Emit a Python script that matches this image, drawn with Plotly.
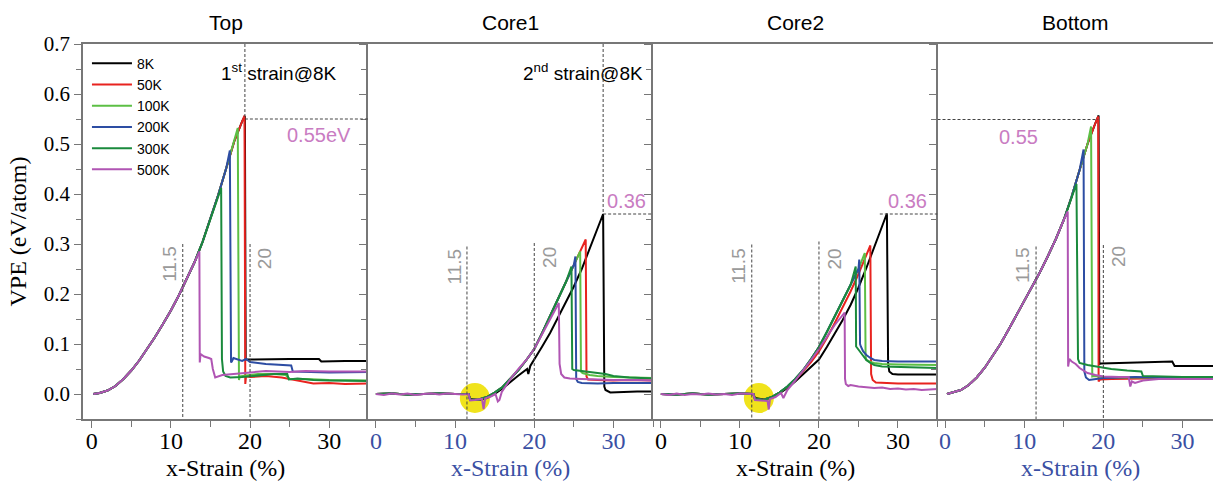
import plotly.graph_objects as go

# ---------------- data ----------------
NAMES = ["8K", "50K", "100K", "200K", "300K", "500K"]
COLORS = ["#000000", "#e8231f", "#5cbf45", "#2d4da3", "#1a8a3c", "#b055b3"]
PANELS = ["Top", "Core1", "Core2", "Bottom"]
X_TICKS = [0, 10, 20, 30]
Y_TICKS = [0.0, 0.1, 0.2, 0.3, 0.4, 0.5, 0.6, 0.7]

# ---- Top ----
TOP_RISE_X = [0.2, 1, 2, 3, 4, 5, 6, 7, 8, 9, 10, 11, 12, 13, 14, 15, 16, 17, 18, 19]
TOP_RISE_Y = [0.0, 0.002, 0.007, 0.016, 0.030, 0.047, 0.067, 0.090, 0.114, 0.140, 0.167,
              0.197, 0.229, 0.264, 0.304, 0.351, 0.399, 0.452, 0.505, 0.545]
TOP_PEAK_X = [19.35, 19.3, 18.45, 17.45, 16.35, 13.6]
TOP_PEAK_Y = [0.556, 0.557, 0.532, 0.487, 0.412, 0.285]
TOP_TAIL_X = [
    [19.45, 22, 25, 28.7, 29.0, 32, 35],
    [19.4, 19.5, 20, 22, 24, 25, 26, 27, 28, 30, 32, 35],
    [18.6, 18.7, 19.5, 21, 23, 24.5, 25, 27, 30, 35],
    [17.6, 17.7, 17.9, 18.5, 19, 19.5, 20, 22, 25.2, 25.4, 27, 30, 35],
    [16.45, 16.6, 16.9, 17.5, 19, 21, 23, 24.7, 24.9, 26, 28, 30, 35],
    [13.65, 13.75, 14.2, 14.8, 15.1, 15.3, 15.6, 16.5, 18, 20, 22, 25, 27, 30, 35],
]
TOP_TAIL_Y = [
    [0.069, 0.070, 0.070, 0.070, 0.065, 0.066, 0.066],
    [0.020, 0.036, 0.034, 0.036, 0.033, 0.030, 0.027, 0.025, 0.021, 0.022, 0.020, 0.021],
    [0.028, 0.035, 0.037, 0.040, 0.040, 0.038, 0.030, 0.030, 0.028, 0.027],
    [0.063, 0.065, 0.072, 0.068, 0.066, 0.070, 0.064, 0.060, 0.057, 0.045, 0.044, 0.043, 0.044],
    [0.070, 0.045, 0.036, 0.033, 0.034, 0.037, 0.040, 0.040, 0.029, 0.031, 0.028, 0.027, 0.026],
    [0.063, 0.080, 0.075, 0.072, 0.070, 0.050, 0.033, 0.038, 0.040, 0.042, 0.046, 0.044, 0.046, 0.045, 0.045],
]

# ---- Core1 ----
CORE1_RISE_X = [0, 2, 4, 6, 8, 10, 11.7, 11.9, 13, 14, 15, 16, 17, 18, 19, 20, 21, 22, 23, 24, 25, 26]
CORE1_RISE_Y = [0.0, 0.001, -0.001, 0.0, 0.001, 0.0, 0.0, -0.012, -0.011, -0.006, 0.003, 0.014,
                0.030, 0.048, 0.068, 0.090, 0.122, 0.156, 0.190, 0.224, 0.258, 0.292]
CORE1_8K_RISE_X = [0, 2, 4, 6, 8, 10, 11.7, 11.9, 13, 14, 15, 16, 17, 18, 19.1, 19.25, 19.5,
                   20, 21, 22, 23, 24, 25, 26, 27, 28]
CORE1_8K_RISE_Y = [0.0, 0.001, -0.001, 0.0, 0.001, 0.0, 0.0, -0.010, -0.012, -0.008, 0.0, 0.011,
                   0.025, 0.037, 0.050, 0.040, 0.056, 0.070, 0.095, 0.122, 0.152, 0.183, 0.215,
                   0.250, 0.290, 0.330]
CORE1_500K_RISE_X = [0, 1, 2, 3, 4, 5, 6, 7, 8, 9, 10, 11, 11.7, 11.9, 12.5, 13.4, 13.6, 13.8,
                     14.5, 15.1, 15.4, 15.6, 15.9, 17, 18, 19, 20, 21, 22]
CORE1_500K_RISE_Y = [0.0, -0.002, 0.001, -0.001, 0.001, -0.002, 0.0, 0.001, -0.001, 0.001, 0.0,
                     -0.001, 0.0, -0.013, -0.012, -0.010, -0.030, -0.009, -0.005, 0.0, -0.015,
                     -0.012, 0.004, 0.030, 0.050, 0.068, 0.090, 0.120, 0.150]
CORE1_PEAK_X = [28.7, 26.5, 25.8, 25.2, 24.7, 23.1]
CORE1_PEAK_Y = [0.360, 0.309, 0.285, 0.275, 0.255, 0.182]
CORE1_TAIL_X = [
    [28.85, 29.0, 29.6, 31, 33, 35],
    [26.6, 26.8, 28, 30, 32, 35],
    [25.9, 26.1, 27, 28, 30, 33, 35],
    [25.3, 25.5, 26, 28, 30, 35],
    [24.8, 25.0, 26, 27, 28, 29, 30, 32, 35],
    [23.2, 23.4, 23.8, 24.5, 26, 28, 30, 33, 35],
]
CORE1_TAIL_Y = [
    [0.015, 0.008, 0.003, 0.004, 0.005, 0.005],
    [0.035, 0.029, 0.028, 0.027, 0.028, 0.027],
    [0.045, 0.042, 0.038, 0.036, 0.034, 0.033, 0.032],
    [0.030, 0.024, 0.022, 0.021, 0.022, 0.022],
    [0.050, 0.048, 0.046, 0.044, 0.043, 0.040, 0.036, 0.033, 0.031],
    [0.060, 0.040, 0.033, 0.031, 0.030, 0.029, 0.028, 0.028, 0.027],
]

# ---- Core2 ----
CORE2_RISE_X = [0, 2, 4, 6, 8, 10, 11.7, 11.9, 13, 14, 15, 16, 17, 18, 19, 20, 21, 22, 23, 24, 25, 25.8]
CORE2_RISE_Y = [0.0, -0.001, 0.001, -0.001, 0.0, 0.001, 0.0, -0.010, -0.012, -0.006, 0.003, 0.015,
                0.030, 0.048, 0.070, 0.094, 0.124, 0.155, 0.186, 0.218, 0.250, 0.280]
CORE2_8K_RISE_X = [0, 2, 4, 6, 8, 10, 11.7, 11.9, 13, 14, 15, 16, 17, 18, 19, 20, 21, 22, 23,
                   24, 25, 26, 27, 28]
CORE2_8K_RISE_Y = [0.0, -0.001, 0.001, -0.001, 0.0, 0.001, 0.0, -0.008, -0.011, -0.007, 0.001,
                   0.012, 0.025, 0.040, 0.054, 0.069, 0.094, 0.120, 0.148, 0.178, 0.213, 0.252,
                   0.294, 0.336]
CORE2_50K_RISE_X = [0, 2, 4, 6, 8, 10, 11.7, 11.9, 13, 14, 15, 16, 17, 18, 19, 20, 21, 22, 23,
                    24, 25, 26]
CORE2_50K_RISE_Y = [0.0, -0.001, 0.001, -0.001, 0.0, 0.001, 0.0, -0.010, -0.012, -0.006, 0.003,
                    0.014, 0.028, 0.045, 0.064, 0.085, 0.112, 0.142, 0.173, 0.205, 0.240, 0.276]
CORE2_500K_RISE_X = [0, 1, 2, 3, 4, 5, 6, 7, 8, 9, 10, 11, 11.7, 11.9, 13.5, 13.65, 13.8, 14.5,
                     15.2, 15.5, 16, 17, 18, 19, 20, 21, 22, 23]
CORE2_500K_RISE_Y = [0.0, -0.002, 0.001, -0.002, 0.0, -0.001, 0.001, -0.001, 0.0, -0.002, 0.001,
                     0.0, 0.0, -0.012, -0.014, -0.031, -0.010, -0.006, 0.002, -0.008, 0.008,
                     0.027, 0.047, 0.068, 0.090, 0.115, 0.138, 0.158]
CORE2_PEAK_X = [28.6, 26.5, 25.8, 25.1, 24.65, 23.25]
CORE2_PEAK_Y = [0.361, 0.297, 0.282, 0.269, 0.255, 0.163]
CORE2_TAIL_X = [
    [28.75, 28.9, 29.3, 30, 32, 35],
    [26.6, 26.8, 27.2, 28, 30, 32, 35],
    [25.9, 26.0, 26.5, 27, 28, 30, 33, 35],
    [25.2, 25.3, 25.6, 26, 26.5, 27, 28, 30, 33, 35],
    [24.7, 24.8, 25.2, 25.6, 26, 26.5, 27, 28, 30, 33, 35],
    [23.3, 23.4, 23.7, 24, 25, 26, 27, 28, 29, 30, 31, 32, 33, 34, 35],
]
CORE2_TAIL_Y = [
    [0.060, 0.045, 0.040, 0.039, 0.039, 0.039],
    [0.040, 0.028, 0.023, 0.022, 0.021, 0.021, 0.021],
    [0.075, 0.068, 0.064, 0.062, 0.060, 0.059, 0.058, 0.058],
    [0.100, 0.095, 0.085, 0.078, 0.072, 0.068, 0.066, 0.065, 0.065, 0.065],
    [0.095, 0.093, 0.085, 0.075, 0.068, 0.062, 0.058, 0.055, 0.054, 0.053, 0.052],
    [0.030, 0.020, 0.016, 0.018, 0.015, 0.014, 0.012, 0.013, 0.010, 0.011, 0.009, 0.010, 0.008, 0.009, 0.010],
]

# ---- Bottom ----
BOT_RISE_X = [0.25, 1, 2, 3, 4, 5, 6, 7, 8, 9, 10, 11, 12, 13, 14, 15, 16, 17, 18, 19]
BOT_RISE_Y = [0.0, 0.003, 0.008, 0.018, 0.033, 0.052, 0.075, 0.100, 0.128, 0.157, 0.187,
              0.213, 0.244, 0.276, 0.310, 0.348, 0.395, 0.448, 0.500, 0.542]
BOT_PEAK_X = [19.4, 19.35, 18.45, 17.5, 16.6, 15.5]
BOT_PEAK_Y = [0.557, 0.555, 0.535, 0.489, 0.420, 0.365]
BOT_TAIL_X = [
    [19.5, 19.7, 22, 25, 28.7, 29.0, 31, 33.9],
    [19.4, 19.6, 21, 24, 27, 30, 33.9],
    [18.6, 18.8, 20, 22, 25, 28, 30, 33.9],
    [17.6, 17.8, 18.2, 19, 20, 22, 24, 27, 30, 33.9],
    [16.8, 17.0, 18, 19, 21, 23, 24.8, 25.0, 27, 30, 33.9],
    [15.55, 15.7, 16, 16.5, 17, 18, 19, 20, 22, 23.2, 23.4, 23.6, 24, 25, 27, 30, 33.9],
]
BOT_TAIL_Y = [
    [0.060, 0.061, 0.062, 0.063, 0.065, 0.056, 0.056, 0.056],
    [0.025, 0.029, 0.030, 0.031, 0.032, 0.032, 0.031],
    [0.035, 0.036, 0.034, 0.033, 0.033, 0.034, 0.033, 0.033],
    [0.045, 0.033, 0.028, 0.030, 0.032, 0.033, 0.034, 0.033, 0.033, 0.032],
    [0.070, 0.062, 0.058, 0.055, 0.050, 0.047, 0.045, 0.036, 0.035, 0.034, 0.034],
    [0.055, 0.070, 0.065, 0.060, 0.052, 0.042, 0.038, 0.035, 0.034, 0.034, 0.015, 0.025, 0.022,
     0.027, 0.030, 0.030, 0.030],
]

# ---------------- styling ----------------
SERIF = "Liberation Serif"
SANS = "Liberation Sans"
AX = "#777777"
BLUE_TXT = "#3a4fa3"
PINK = "#c97cc2"
GRAY_TXT = "#9a9a9a"
DASH = dict(color="#444444", width=1, dash="3px,2px")
YLO, YHI = -0.05, 0.7

PX_EDGES = [83, 368, 653, 937.5, 1213]
PLOT_W = 1213 - 83
DOMAINS = [[(PX_EDGES[i] - 83) / PLOT_W, (PX_EDGES[i + 1] - 83) / PLOT_W] for i in range(4)]
XRANGES = [[-1.1, 34.9], [-1.0, 35.0], [-1.0, 35.0], [-0.95, 33.85]]
XCOLORS = ["#000000", BLUE_TXT, "#000000", BLUE_TXT]

panel_data = [
    (TOP_PEAK_X, TOP_PEAK_Y, TOP_TAIL_X, TOP_TAIL_Y, {}),
    (CORE1_PEAK_X, CORE1_PEAK_Y, CORE1_TAIL_X, CORE1_TAIL_Y,
     {0: (CORE1_8K_RISE_X, CORE1_8K_RISE_Y), 5: (CORE1_500K_RISE_X, CORE1_500K_RISE_Y)}),
    (CORE2_PEAK_X, CORE2_PEAK_Y, CORE2_TAIL_X, CORE2_TAIL_Y,
     {0: (CORE2_8K_RISE_X, CORE2_8K_RISE_Y), 1: (CORE2_50K_RISE_X, CORE2_50K_RISE_Y),
      5: (CORE2_500K_RISE_X, CORE2_500K_RISE_Y)}),
    (BOT_PEAK_X, BOT_PEAK_Y, BOT_TAIL_X, BOT_TAIL_Y, {}),
]
shared_rise = [(TOP_RISE_X, TOP_RISE_Y), (CORE1_RISE_X, CORE1_RISE_Y),
               (CORE2_RISE_X, CORE2_RISE_Y), (BOT_RISE_X, BOT_RISE_Y)]

fig = go.Figure()
for p in range(4):
    pkx, pky, tx, ty, overrides = panel_data[p]
    for s in range(6):
        rx, ry = overrides.get(s, shared_rise[p])
        xs = [x for x in rx if x < pkx[s]]
        ys = ry[:len(xs)]
        fig.add_trace(go.Scatter(
            x=xs + [pkx[s]] + tx[s], y=ys + [pky[s]] + ty[s],
            mode="lines", name=NAMES[s], showlegend=(p == 0),
            line=dict(color=COLORS[s], width=2),
            xaxis="x" if p == 0 else f"x{p+1}", yaxis="y" if p == 0 else f"y{p+1}",
        ))

layout = dict(
    width=1213, height=481,
    margin=dict(l=83, r=0, t=44, b=62, autoexpand=False),
    paper_bgcolor="white", plot_bgcolor="white",
    legend=dict(x=0.0035, y=0.99, xanchor="left", yanchor="top",
                font=dict(family=SANS, size=14, color="black"),
                bgcolor="rgba(0,0,0,0)", tracegroupgap=0, itemwidth=40),
    showlegend=True,
)
for p in range(4):
    xk = "xaxis" if p == 0 else f"xaxis{p+1}"
    yk = "yaxis" if p == 0 else f"yaxis{p+1}"
    xa = "x" if p == 0 else f"x{p+1}"
    ya = "y" if p == 0 else f"y{p+1}"
    layout[xk] = dict(
        domain=DOMAINS[p], range=XRANGES[p], anchor=ya, automargin=False,
        showline=True, linecolor=AX, linewidth=1.5, mirror=True,
        ticks="outside", ticklen=7, tickwidth=1.3, tickcolor=AX,
        tickvals=X_TICKS, ticktext=[str(v) for v in X_TICKS],
        minor=dict(tickvals=[5, 15, 25, 35], ticks="outside", ticklen=6, tickcolor=AX, tickwidth=1.3),
        showgrid=False, zeroline=False, ticklabelstandoff=-8,
        tickfont=dict(family=SERIF, size=24, color=XCOLORS[p]),
    )
    layout[yk] = dict(
        domain=[0, 1], range=[YLO, YHI], anchor=xa, automargin=False,
        showline=True, linecolor=AX, linewidth=1.5,
        ticks="outside", ticklen=7, tickwidth=1.3, tickcolor=AX,
        tickvals=Y_TICKS, tickformat=".1f",
        minor=dict(tickvals=[-0.05, 0.05, 0.15, 0.25, 0.35, 0.45, 0.55, 0.65],
                   ticks="outside", ticklen=5, tickcolor=AX, tickwidth=1.3),
        showgrid=False, zeroline=False,
        showticklabels=(p == 0),
        tickfont=dict(family=SERIF, size=21, color="black"),
    )
layout["yaxis"]["title"] = dict(text="VPE (eV/atom)", font=dict(family=SERIF, size=24, color="black"),
                                 standoff=10)

ann = []
for p, name in enumerate(PANELS):
    xa = "x" if p == 0 else f"x{p+1}"
    ann.append(dict(text=name, xref=f"{xa} domain", yref="paper", x=0.5, y=1, xanchor="center",
                    yanchor="bottom", yshift=8, showarrow=False,
                    font=dict(family=SANS, size=21, color="black")))
    ann.append(dict(text="x-Strain (%)", xref=f"{xa} domain", yref="paper", x=0.5 if p < 3 else 0.52,
                    y=0, xanchor="center", yanchor="middle", yshift=-49, showarrow=False,
                    font=dict(family=SERIF, size=24, color=XCOLORS[p])))

def txt(xa, x, y, text, color, size, angle=0, xanchor="center"):
    ann.append(dict(text=text, xref=xa, yref=xa.replace("x", "y"), x=x, y=y, showarrow=False,
                    textangle=angle, xanchor=xanchor, yanchor="middle",
                    font=dict(family=SANS, size=size, color=color)))

txt("x", 16.1, 0.645, "1<sup>st</sup> strain@8K", "black", 19, xanchor="left")
txt("x2", 18.3, 0.645, "2<sup>nd</sup> strain@8K", "black", 19, xanchor="left")
txt("x", 24.4, 0.519, "0.55eV", PINK, 20, xanchor="left")
txt("x2", 28.9, 0.386, "0.36", PINK, 20, xanchor="left")
txt("x3", 28.5, 0.387, "0.36", PINK, 20, xanchor="left")
txt("x4", 6.6, 0.515, "0.55", PINK, 20, xanchor="left")
for xa, y1, y2 in [("x", 0.261, 0.271), ("x2", 0.254, 0.274), ("x3", 0.257, 0.27), ("x4", 0.257, 0.274)]:
    txt(xa, 9.8, y1, "11.5", GRAY_TXT, 19, angle=-90)
    txt(xa, 21.85, y2, "20", GRAY_TXT, 19, angle=-90)

shapes = []
def seg(xa, x0, y0, x1, y1):
    shapes.append(dict(type="line", xref=xa, yref=xa.replace("x", "y"), x0=x0, y0=y0, x1=x1, y1=y1,
                       line=DASH, layer="above"))

for xa, top11, top20 in [("x", 0.3, 0.3), ("x2", 0.295, 0.302), ("x3", 0.299, 0.305), ("x4", 0.295, 0.298)]:
    seg(xa, 11.5, top11, 11.5, YLO)
    seg(xa, 20, top20, 20, YLO)
seg("x", 19.35, YHI, 19.35, 0.552)
seg("x", 19.35, 0.55, XRANGES[0][1], 0.55)
seg("x2", 28.7, YHI, 28.7, 0.36)
seg("x2", 28.7, 0.36, XRANGES[1][1], 0.36)
seg("x3", 27.7, 0.36, XRANGES[2][1], 0.36)
seg("x4", XRANGES[3][0], 0.549, 19.35, 0.549)

for xa, cx, cy in [("x2", 12.5, -0.008), ("x3", 12.4, -0.008)]:
    shapes.append(dict(type="circle", xref=xa, yref=xa.replace("x", "y"),
                       x0=cx - 1.9, x1=cx + 1.9, y0=cy - 0.03, y1=cy + 0.03,
                       fillcolor="#f0e31c", line=dict(width=0), layer="below"))

layout["annotations"] = ann
layout["shapes"] = shapes
fig.update_layout(**layout)
fig.write_html("out.html", config={"displayModeBar": False},
               post_script="document.body.style.margin='0';document.body.style.overflow='hidden';")
